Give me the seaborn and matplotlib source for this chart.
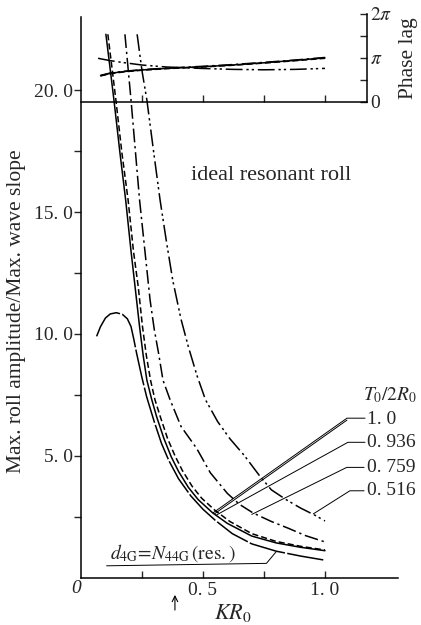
import numpy as np
import pandas as pd
import matplotlib
matplotlib.use("Agg")
import matplotlib.pyplot as plt
import seaborn as sns

# ---------------- data ----------------
# T0/2R0 = 1.0 (solid)
kr_100 = [0.102, 0.118, 0.135, 0.16, 0.183, 0.205, 0.222, 0.24, 0.255, 0.27, 0.29, 0.31, 0.34, 0.37,
          0.40, 0.44, 0.48, 0.54, 0.60, 0.70, 0.80, 0.90, 1.0]
amp_100 = [22.3, 21.0, 19.6, 17.4, 15.5, 13.4, 11.9, 10.3, 9.1, 8.1, 7.3, 6.6, 5.7, 4.95,
           4.35, 3.7, 3.2, 2.65, 2.22, 1.7, 1.42, 1.24, 1.1]
# T0/2R0 = 0.936 (dashed)
kr_936 = [0.110, 0.126, 0.143, 0.168, 0.193, 0.215, 0.235, 0.252, 0.268, 0.285, 0.303, 0.325, 0.355,
          0.385, 0.415, 0.455, 0.495, 0.55, 0.61, 0.70, 0.80, 0.90, 1.0]
amp_936 = [22.3, 21.0, 19.6, 17.4, 15.5, 13.4, 11.9, 10.3, 9.1, 8.1, 7.3, 6.6, 5.7,
           5.0, 4.4, 3.75, 3.25, 2.75, 2.3, 1.8, 1.48, 1.28, 1.13]
# T0/2R0 = 0.759 (dash-dot)
kr_759 = [0.18, 0.205, 0.24, 0.262, 0.283, 0.30, 0.318, 0.336, 0.365, 0.41, 0.474, 0.53, 0.60, 0.65,
          0.705, 0.78, 0.85, 0.92, 1.0]
amp_759 = [22.3, 19.6, 15.5, 13.4, 11.4, 10.2, 9.2, 8.1, 7.3, 6.2, 5.3, 4.3, 3.45, 3.0,
           2.65, 2.3, 2.02, 1.72, 1.46]
# T0/2R0 = 0.516 (dash-dot-dot)
kr_516 = [0.23, 0.25, 0.27, 0.30, 0.324, 0.35, 0.376, 0.41, 0.44, 0.475, 0.51, 0.56, 0.61, 0.67,
          0.73, 0.78, 0.84, 0.90, 0.96, 1.0]
amp_516 = [22.3, 20.8, 19.6, 17.3, 15.5, 13.8, 12.2, 10.6, 9.47, 8.3, 7.3, 6.4, 5.7, 5.0,
           4.2, 3.6, 3.2, 2.85, 2.55, 2.32]
# d4G = N44G (res.)
kr_res = [0.064, 0.08, 0.10, 0.12, 0.145, 0.17, 0.19, 0.205, 0.216, 0.228, 0.249, 0.269, 0.30, 0.33,
          0.36, 0.40, 0.45, 0.50, 0.55, 0.62, 0.70, 0.80, 0.90, 1.0]
amp_res = [9.9, 10.3, 10.65, 10.82, 10.87, 10.8, 10.62, 10.3, 9.8, 9.2, 8.24, 7.42, 6.4, 5.5,
           4.8, 4.05, 3.35, 2.8, 2.35, 1.8, 1.38, 1.08, 0.88, 0.71]

# phase lag (rad)
kr_ph = [0.08, 0.12, 0.18, 0.25, 0.35, 0.50, 0.62, 0.75, 0.88, 1.0]
ph_100 = [1.88, 2.05, 2.18, 2.29, 2.40, 2.52, 2.64, 2.80, 2.98, 3.15]
ph_936 = [1.86, 2.02, 2.16, 2.27, 2.38, 2.50, 2.62, 2.78, 2.95, 3.12]
ph_759 = [1.90, 2.07, 2.20, 2.31, 2.42, 2.55, 2.67, 2.83, 3.00, 3.18]
kr_ph516 = [0.07, 0.12, 0.18, 0.25, 0.35, 0.49, 0.62, 0.75, 0.88, 1.0]
ph_516 = [3.12, 2.95, 2.80, 2.64, 2.50, 2.40, 2.33, 2.30, 2.33, 2.40]

legend_title = "$T_0/2R_0$"
legend_values = ["1. 0", "0. 936", "0. 759", "0. 516"]
ytick_vals = [5, 10, 15, 20]
ytick_labels = ["5. 0", "10. 0", "15. 0", "20. 0"]
xtick_vals = [0.5, 1.0]
xtick_labels = ["0. 5", "1. 0"]

# ---------------- style ----------------
sns.set_style("ticks")
plt.rcParams["font.family"] = ["Liberation Serif", "DejaVu Serif"]
plt.rcParams["mathtext.fontset"] = "stix"

W, H = 421, 625
fig = plt.figure(figsize=(W / 100, H / 100), dpi=100)
fig.patch.set_facecolor("white")

x0, y0 = 81, 577.5           # pixel position of origin
sx, sy = 244.0, 24.36        # pixels per unit
ax = fig.add_axes([x0 / W, 1 - y0 / H, 1.3 * sx / W, 23 * sy / H])
ax.set_xlim(0, 1.3)
ax.set_ylim(0, 23)
ax.patch.set_visible(False)
for s in ["top", "right"]:
    ax.spines[s].set_visible(False)
for s in ["left", "bottom"]:
    ax.spines[s].set_linewidth(1.1)
    ax.spines[s].set_color("black")

lw = 1.1
styles = {
    "1.0": None,
    "0.936": (4, 2),
    "0.759": (9, 2.5, 1.5, 2.5),
    "0.516": (11, 2.5, 1.5, 2, 1.5, 2.5),
    "res": (24, 1.5),
}

def draw(axis, xs, ys, key, width=lw):
    df = pd.DataFrame({"x": xs, "y": ys})
    sns.lineplot(data=df, x="x", y="y", ax=axis, color="black", linewidth=width,
                 estimator=None, sort=False, legend=False)
    line = axis.lines[-1]
    if styles[key] is not None:
        line.set_dashes(styles[key])
    line.set_clip_on(False)

draw(ax, kr_100, amp_100, "1.0")
draw(ax, kr_936, amp_936, "0.936")
draw(ax, kr_759, amp_759, "0.759")
draw(ax, kr_516, amp_516, "0.516")
draw(ax, kr_res, amp_res, "res")

ax.set_xlabel("")
ax.set_ylabel("")
ax.set_yticks(ytick_vals)
ax.set_yticklabels(ytick_labels, fontsize=14)
ax.set_yticks([2.5, 7.5, 12.5, 17.5], minor=True)
ax.tick_params(axis="y", which="both", direction="out", length=5, width=1, pad=1)
ax.set_xticks(xtick_vals)
ax.set_xticklabels(xtick_labels, fontsize=14)
ax.set_xticks([0.25, 0.75], minor=True)
ax.tick_params(axis="x", which="both", direction="in", length=5, width=1, pad=3)

ax.text(-0.018, -0.45, "0", fontsize=14, style="italic", ha="center", va="center", clip_on=False)
ax.text(0.623, -1.70, "$KR_0$", fontsize=16, ha="center", va="baseline", clip_on=False)
ax.annotate("", xy=(0.385, -0.6), xytext=(0.385, -1.45),
            arrowprops=dict(arrowstyle="->", lw=0.8, color="black"), annotation_clip=False)
fig.text(17 / W, 1 - 311 / H, "Max. roll amplitude/Max. wave slope", rotation=90,
         fontsize=15.5, ha="center", va="center")

ax.text(0.78, 16.5, "ideal resonant roll", fontsize=16, ha="center", va="center")

# legend-like labels with leader lines
ax.text(1.266, 7.49, legend_title, fontsize=14, ha="center", va="center", clip_on=False)
lab_y = [6.5, 5.55, 4.52, 3.56]
leaders = [
    [(1.164, 6.54), (1.09, 6.54), (0.542, 2.66)],
    [(1.164, 5.55), (1.094, 5.55), (0.556, 2.57)],
    [(1.16, 4.52), (1.089, 4.52), (0.70, 2.59)],
    [(1.16, 3.56), (1.102, 3.56), (0.952, 2.61)],
]
for val, yy, pts in zip(legend_values, lab_y, leaders):
    ax.text(1.172, yy, val, fontsize=14, ha="left", va="center", clip_on=False)
    xs, ys = zip(*pts)
    ax.plot(xs, ys, color="black", lw=0.7, clip_on=False)
# double line for the 1.0 leader
ax.plot([1.09, 0.548], [6.46, 2.62], color="black", lw=0.7, clip_on=False)

ax.text(0.118, 0.76, r"$d_{4\mathrm{G}}\!=\!N_{44\mathrm{G}}\,(\mathrm{res.})$", fontsize=14,
        ha="left", va="baseline")
ax.plot([0.105, 0.76, 0.80], [0.48, 0.58, 1.06], color="black", lw=0.7)

# ---------------- phase-lag inset ----------------
ax2 = fig.add_axes([x0 / W, 1 - 102 / H, 286 / W, 88 / H])
ax2.patch.set_visible(False)
ax2.set_xlim(0, 286 / sx)
ax2.set_ylim(0, 2 * np.pi)
for s in ["top", "left"]:
    ax2.spines[s].set_visible(False)
for s in ["bottom", "right"]:
    ax2.spines[s].set_linewidth(1.1)
    ax2.spines[s].set_color("black")
draw(ax2, kr_ph, ph_100, "1.0")
draw(ax2, kr_ph, ph_936, "0.936")
draw(ax2, kr_ph, ph_759, "0.759")
draw(ax2, kr_ph516, ph_516, "0.516")
ax2.set_xlabel("")
ax2.yaxis.tick_right()
ax2.yaxis.set_label_position("right")
ax2.set_yticks([0, np.pi / 2, np.pi, 3 * np.pi / 2, 2 * np.pi])
ax2.set_yticklabels(["0", "", r"$\pi$", "", r"$2\pi$"], fontsize=14)
ax2.tick_params(axis="y", direction="in", length=5, width=1, pad=2)
ax2.set_xticks([0.25, 0.5, 0.75, 1.0])
ax2.set_xticklabels([])
ax2.tick_params(axis="x", direction="in", length=5, width=1)
ax2.set_ylabel("Phase lag", fontsize=15.5, rotation=90, labelpad=5)

fig.savefig("out.png", dpi=100, facecolor="white")
